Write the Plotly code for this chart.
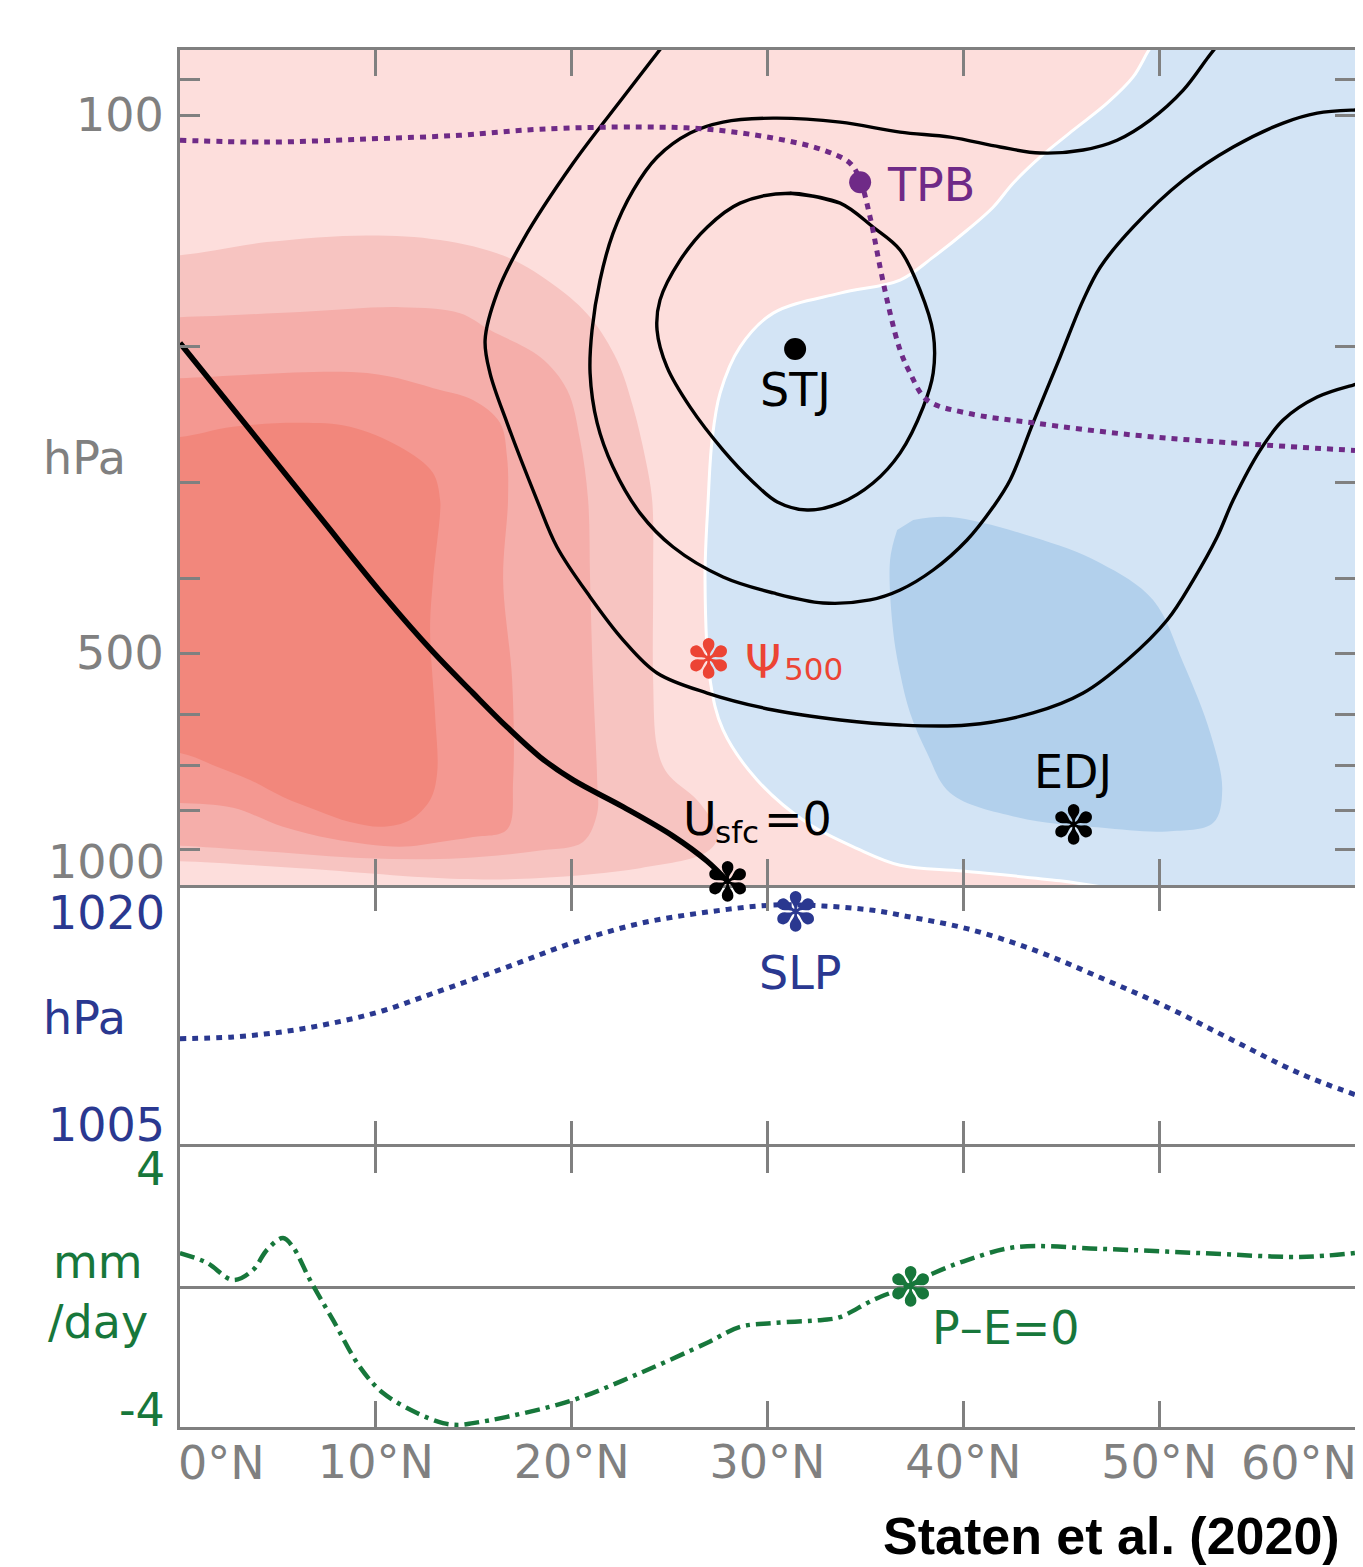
import math
import plotly.graph_objects as go

# ---------------- data ----------------
# Top panel: outlines of the shaded streamfunction levels (latitude °N, pressure hPa)
psi2_lat = [-2, 0, 4.44, 9.55, 13.28, 16.70, 19.25, 20.94, 22.32, 23.14, 23.75, 24.11, 24.16, 24.16,
            24.36, 24.87, 26.40, 27.22, 27.43, 26.81, 23.49, 18.39, 14.30, 6.13, 0, -2]
psi2_p = [152, 152, 146.2, 143.3, 145.3, 152.9, 167.3, 183, 208.1, 239.5, 278.2, 316.2, 401.7, 541.7,
          661.8, 715.3, 775.4, 830.4, 871.4, 909, 950.8, 979, 982, 950.8, 931.4, 931.4]

psi3_lat = [-2, 0, 6.13, 11.24, 14.30, 15.83, 18.39, 19.77, 20.43, 20.84, 20.94, 21.09, 21.30, 21.30,
            20.58, 18.39, 14.30, 9.55, 4.44, 0, -2]
psi3_p = [183, 183, 180.2, 177.6, 180.8, 190.2, 206.2, 227.6, 264.3, 316.2, 401.7, 541.7, 730.4, 807,
          879, 902, 923.2, 923.2, 904.6, 889, 889]

psi4_lat = [-2, 0, 9.55, 13.28, 14.96, 16.34, 16.70, 16.75, 16.50, 16.96, 17.01, 16.70, 14.96, 13.28,
            11.24, 7.81, 5.26, 2.71, 0, -2]
psi4_p = [219.6, 219.6, 216.3, 227.6, 234.5, 251, 278.2, 316.2, 401.7, 541.7, 730.4, 847.1, 866.5, 879,
          891.6, 871.4, 840, 794, 782.4, 782.4]

psi5_lat = [-2, 0, 2.71, 6.13, 8.68, 11.24, 12.92, 13.28, 13.28, 12.92, 12.77, 13.02, 13.13, 12.77,
            11.75, 10.37, 8.68, 7.0, 5.26, 3.58, 1.89, 0, -2]
psi5_p = [261.9, 261.9, 254, 251, 254, 269.9, 291.7, 316.2, 328.8, 401.7, 466.4, 597.8, 715.3, 775.4,
          823.3, 840, 828, 800, 768.4, 730.4, 702, 673.8, 673.8]

# zero line of the streamfunction (boundary of the negative / blue region)
psi0_lat = [49.7, 49.39, 48.67, 47.34, 45.61, 43.92, 42.54, 41.52, 40.19, 38.46, 36.77, 33.71, 30.29,
            28.60, 27.58, 27.17, 26.97, 26.81, 27.07, 27.73, 29.47, 32.02, 34.58, 36.77, 39.99, 44.94, 47.5]
psi0_p = [80.5, 83, 89.2, 96.5, 104.6, 113.4, 122.6, 131.7, 141.1, 152.9, 163.8, 170.3, 180.8,
          200, 229.6, 264.3, 316.2, 401.7, 541.7, 629, 730.4, 830.4, 896.8, 942.6, 959.3, 987.6, 1010]
neg_corner_lat = [62, 62]
neg_corner_p = [1010, 80]

# stronger negative region (eddy-driven jet)
negb_lat = [37.44, 39.33, 43.56, 46.99, 49.69, 51.23, 52.61, 53.22, 52.76, 50.41, 46.99, 42.75, 39.33,
            38.15, 37.28, 36.77, 36.41, 36.26, 36.62]
negb_p = [335.7, 332.7, 353.2, 381.6, 426.3, 514.8, 634.7, 752.6, 830.4, 852, 842.3, 816.5, 759.3,
          673.8, 597.8, 530.4, 466.4, 378.3, 345.9]

# zonal wind contours
ua_lat = [24.7, 22.63, 20.07, 17.52, 16.19, 15.58, 15.83, 16.70, 18.23, 19.25, 20.94, 22.63, 24.36,
          26.92, 30.29, 33.71, 36.77, 40.19, 43.56, 46.12, 48.37, 50.41, 51.74, 52.96, 53.78, 55.16,
          56.33, 58.07, 59.91, 60.3]
ua_p = [81, 94.8, 115.5, 145.3, 170.3, 196, 216.3, 251, 316.2, 363.9, 422.5, 480.6, 530.4,
        563.2, 592.5, 610.5, 619.8, 619.8, 597.8, 563.2, 510.2, 452.7, 401.7, 353.2, 316.2, 272.3,
        248.9, 232.4, 224.2, 223]

ub_lat = [53.0, 52.50, 51.23, 49.54, 47.85, 46.12, 43.92, 41.88, 39.33, 36.77, 33.71, 30.29, 27.73,
          26.05, 24.36, 23.14, 22.11, 21.45, 21.04, 20.94, 21.30, 22.11, 23.49, 25.18, 27.73, 30.29,
          32.84, 35.24, 36.77, 38.46, 40.19, 41.52, 42.39, 43.56, 44.94, 46.12, 46.99, 48.67, 51.23,
          53.78, 56.33, 58.07, 59.91, 60.3]
ub_p = [81, 84.1, 92.8, 101.5, 107.8, 111, 112, 110, 106.8, 105.2, 102.1, 100.9, 102.1,
        105.5, 113.4, 125.2, 142.4, 163.8, 190.2, 216.3, 251, 286.5, 328.8, 363.9, 398, 417.5,
        430.2, 426.3, 413.8, 389.8, 356.3, 322.9, 297.8, 251, 206.2, 173.9, 157.6, 139.8, 121.5,
        110, 102.4, 99.4, 98.5, 98.5]

# closed loop around the subtropical jet
uc_lat = [31.15, 33.71, 35.39, 36.77, 37.79, 38.46, 38.46, 37.95, 36.77, 35.39, 33.71, 32.02, 30.50,
          29.26, 27.73, 26.05, 24.87, 24.36, 24.51, 25.54, 26.92, 28.60, 31.15, 33.71]
uc_p = [126.3, 130.1, 139.8, 149.7, 168.8, 192, 216.3, 239.5, 274.8, 300.5, 319.1, 325.8, 318,
        299.5, 272.3, 239.5, 212.5, 190.2, 173.9, 154.3, 139.8, 130.1, 126.3, 130.1]

# thick line reaching the surface where U_sfc = 0
u0_lat = [0, 3.58, 7.15, 10.37, 12.92, 14.96, 16.70, 18.39, 20.07, 22.63, 25.18, 26.92, 27.94]
u0_p = [197.7, 256.5, 332.7, 420, 498, 563.2, 623.6, 682, 730.4, 791.8, 864, 931.4, 987.6]

# tropopause (TPB)
tpb_lat = [0, 4.44, 9.55, 14.30, 18.39, 23.49, 26.92, 30.29, 32.84, 34.22, 34.73, 35.24, 35.75, 36.26,
           36.77, 37.28, 38.15, 40.19, 43.56, 48.67, 53.78, 60]
tpb_p = [107.8, 108.4, 107.4, 106.2, 104.3, 103.6, 104.3, 107.1, 111, 115.5, 121.5, 135.7, 157.6, 180.8,
         201.9, 216.3, 234.5, 243.8, 251, 260.3, 266.6, 272.6]

# Middle panel: sea level pressure (hPa)
slp_lat = [0, 2.71, 5.26, 7.81, 10.37, 12.92, 16.7, 20.07, 23.49, 26.92, 30.29, 32.84, 35.39, 37.13,
           40.19, 43.56, 46.99, 50.41, 53.78, 57.2, 60]
slp = [1011.2, 1011.3, 1011.6, 1012.1, 1012.8, 1013.8, 1015.3, 1016.7, 1017.8, 1018.45, 1018.85, 1018.8,
       1018.55, 1018.2, 1017.5, 1016.3, 1014.7, 1013.0, 1011.1, 1009.2, 1008.0]

# Bottom panel: P-E (mm/day)
pe_lat = [0, 1.38, 2.71, 3.73, 4.44, 5.26, 5.77, 6.64, 7.81, 9.19, 10.37, 12.1, 13.43, 14.3, 14.96,
          16.7, 20.07, 23.49, 26.9, 28.6, 30.3, 32.8, 33.7, 35.4, 37.3, 38.5, 40.2, 42.7, 47.0, 52.1,
          57.2, 60]
pe = [0.97, 0.69, 0.2, 0.49, 1.06, 1.4, 1.14, 0.2, -0.94, -2.29, -3.03, -3.6, -3.89, -3.94, -3.89,
      -3.71, -3.23, -2.46, -1.6, -1.14, -1.03, -0.94, -0.86, -0.37, 0.06, 0.4, 0.77, 1.14, 1.09, 0.97,
      0.86, 0.97]

# key points
stj = (31.41, 201.3)
tpb_pt = (34.73, 122.2)
psi500_pt = (26.97, 509)
edj_pt = (45.61, 838)
usfc_pt = (27.94, 993)
slp_pt = (31.41, 1018.4)
pe0_pt = (37.28, 0.0)

lat_ticks = [10, 20, 30, 40, 50]
lat_labels = ["10°N", "20°N", "30°N", "40°N", "50°N"]
p_ticks = [90, 100, 200, 300, 400, 500, 600, 700, 800, 900, 1000]
p_labels = ["", "100", "", "", "", "500", "", "", "", "", ""]

# ---------------- styles ----------------
GRAY = "#808080"
PURPLE = "#6f2a87"
BLUE = "#2a3890"
GREEN = "#17773b"
RED = "#ec4434"
C1, C2, C3, C4, C5 = "#fddedc", "#f7c4c1", "#f5aeaa", "#f49891", "#f2877c"
B1, B2 = "#d3e4f5", "#b2d0ec"
FONT = "DejaVu Sans"
FS = 46
SM = 1.0

fig = go.Figure()


def fill_poly(lat, p, color):
    fig.add_trace(go.Scatter(x=lat, y=p, xaxis="x", yaxis="y", mode="lines", fill="toself",
                             fillcolor=color, line=dict(width=0, color=color, shape="spline", smoothing=SM),
                             hoverinfo="skip", showlegend=False))


fill_poly(psi2_lat, psi2_p, C2)
fill_poly(psi3_lat, psi3_p, C3)
fill_poly(psi4_lat, psi4_p, C4)
fill_poly(psi5_lat, psi5_p, C5)
fill_poly(psi0_lat + neg_corner_lat, psi0_p + neg_corner_p, B1)
fill_poly(negb_lat, negb_p, B2)

# white zero contour
fig.add_trace(go.Scatter(x=psi0_lat, y=psi0_p, xaxis="x", yaxis="y", mode="lines",
                         line=dict(width=3, color="white", shape="spline", smoothing=SM),
                         hoverinfo="skip", showlegend=False))

for la, pp in [(ua_lat, ua_p), (ub_lat, ub_p), (uc_lat, uc_p)]:
    fig.add_trace(go.Scatter(x=la, y=pp, xaxis="x", yaxis="y", mode="lines",
                             line=dict(width=3.4, color="black", shape="spline", smoothing=SM),
                             hoverinfo="skip", showlegend=False))

fig.add_trace(go.Scatter(x=u0_lat, y=u0_p, xaxis="x", yaxis="y", mode="lines",
                         line=dict(width=5.5, color="black", shape="spline", smoothing=SM),
                         hoverinfo="skip", showlegend=False))

fig.add_trace(go.Scatter(x=tpb_lat, y=tpb_p, xaxis="x", yaxis="y", mode="lines",
                         line=dict(width=5, color=PURPLE, dash="6px,6px", shape="spline", smoothing=SM),
                         hoverinfo="skip", showlegend=False))

fig.add_trace(go.Scatter(x=[tpb_pt[0]], y=[tpb_pt[1]], xaxis="x", yaxis="y", mode="markers",
                         marker=dict(size=22, color=PURPLE), hoverinfo="skip", showlegend=False))
fig.add_trace(go.Scatter(x=[stj[0]], y=[stj[1]], xaxis="x", yaxis="y", mode="markers",
                         marker=dict(size=22, color="black"), hoverinfo="skip", showlegend=False))

fig.add_trace(go.Scatter(x=slp_lat, y=slp, xaxis="x2", yaxis="y2", mode="lines",
                         line=dict(width=5, color=BLUE, dash="6px,6px", shape="spline", smoothing=SM),
                         hoverinfo="skip", showlegend=False))

fig.add_trace(go.Scatter(x=pe_lat, y=pe, xaxis="x3", yaxis="y3", mode="lines",
                         line=dict(width=4.5, color=GREEN, dash="15px,6px,4px,6px", shape="spline",
                                   smoothing=SM),
                         hoverinfo="skip", showlegend=False))

# background of the top panel (weakest positive level)
fig.add_shape(type="rect", xref="x domain", yref="y domain", x0=0, x1=1, y0=0, y1=1,
              fillcolor=C1, line=dict(width=0), layer="below")

L = math.log10
ann = []


def txt(text, x, y, xref, yref, color, size=FS, xanchor="center", yanchor="middle", family=FONT,
        xshift=0, yshift=0):
    ann.append(dict(text=text, x=x, y=y, xref=xref, yref=yref, showarrow=False,
                    font=dict(family=family, size=size, color=color), xanchor=xanchor,
                    yanchor=yanchor, xshift=xshift, yshift=yshift))


AST = "✽"
AS = 54
# top panel labels
txt("TPB", 36.0, L(123.3), "x", "y", PURPLE, xanchor="left")
txt("STJ", 31.41, L(227.6), "x", "y", "black")
txt(AST, psi500_pt[0], L(psi500_pt[1]), "x", "y", RED, size=AS)
txt("Ψ", 28.75, L(514), "x", "y", RED, xanchor="left")
txt("500", 30.75, L(524), "x", "y", RED, size=31, xanchor="left")
txt("EDJ", 45.61, L(713), "x", "y", "black")
txt(AST, edj_pt[0], L(edj_pt[1]), "x", "y", "black", size=AS)
txt("U", 25.6, L(820), "x", "y", "black", xanchor="left")
txt("sfc", 27.2, L(853), "x", "y", "black", size=31, xanchor="left")
txt("=0", 29.7, L(820), "x", "y", "black", xanchor="left")
txt(AST, usfc_pt[0], L(usfc_pt[1]), "x", "y", "black", size=AS)
# middle
txt("SLP", 31.66, 1014.96, "x2", "y2", BLUE)
txt(AST, slp_pt[0], slp_pt[1], "x2", "y2", BLUE, size=AS)
# bottom
txt("P–E=0", 38.30, -1.17, "x3", "y3", GREEN, xanchor="left")
txt(AST, pe0_pt[0], pe0_pt[1], "x3", "y3", GREEN, size=AS)

# axis side labels (paper coords; plot area spans page pixels x 180-1355, y 50-1427)
H = 1377.0
W = 1175.0


def py(ypx):
    return (1427 - ypx) / H


def px(xpx):
    return (xpx - 180) / W


txt("1000", 0, py(862), "paper", "paper", GRAY, xanchor="right", xshift=-13)
txt("hPa", px(84.5), py(458), "paper", "paper", GRAY)
txt("1020", 0, py(913), "paper", "paper", BLUE, xanchor="right", xshift=-13)
txt("hPa", px(84.5), py(1018), "paper", "paper", BLUE)
txt("1005", 0, py(1125), "paper", "paper", BLUE, xanchor="right", xshift=-13)
txt("4", 0, py(1169), "paper", "paper", GREEN, xanchor="right", xshift=-13)
txt("mm", px(98), py(1262), "paper", "paper", GREEN)
txt("/day", px(98), py(1322), "paper", "paper", GREEN)
txt("-4", 0, py(1410), "paper", "paper", GREEN, xanchor="right", xshift=-13)
txt("0°N", px(176), py(1463), "paper", "paper", GRAY, xanchor="left")
txt("60°N", px(1359), py(1463), "paper", "paper", GRAY, xanchor="right")
txt("<b>Staten et al. (2020)</b>", px(1342), py(1567), "paper", "paper", "black", size=52,
    xanchor="right", yanchor="bottom", family="Liberation Sans")

axis_common = dict(showline=True, linecolor=GRAY, linewidth=3, showgrid=False, zeroline=False)
xcommon = dict(axis_common, range=[0, 60], tickvals=lat_ticks, ticks="inside", ticklen=26,
               tickwidth=3, tickcolor=GRAY, mirror="ticks")

d_bot = 280 / H
d_mid = 542 / H

# the page body adds an 8 px offset, so the figure is 8 px smaller than the window
fig.update_layout(
    width=1355, height=1559,
    margin=dict(l=172, r=8, t=42, b=140, autoexpand=False),
    paper_bgcolor="white", plot_bgcolor="white", showlegend=False,
    font=dict(family=FONT, size=FS, color=GRAY),
    annotations=ann,
    xaxis=dict(xcommon, domain=[0, 1], anchor="y", showticklabels=False),
    yaxis=dict(axis_common, domain=[d_mid, 1], anchor="x", type="log", range=[3, L(82.3)],
               tickvals=p_ticks, ticktext=p_labels, ticks="inside", ticklen=20, tickwidth=3,
               tickcolor=GRAY, mirror="ticks", tickfont=dict(family=FONT, size=FS, color=GRAY),
               ticklabelstandoff=4, automargin=False),
    xaxis2=dict(xcommon, domain=[0, 1], anchor="y2", showticklabels=False, showline=False),
    yaxis2=dict(axis_common, domain=[d_bot, d_mid], anchor="x2", range=[1005, 1020],
                showticklabels=False, ticks="", mirror=True),
    xaxis3=dict(xcommon, domain=[0, 1], anchor="y3", ticktext=lat_labels, showticklabels=True,
                tickfont=dict(family=FONT, size=FS, color=GRAY), ticklabelstandoff=-7,
                automargin=False),
    yaxis3=dict(axis_common, domain=[0, d_bot], anchor="x3", range=[-4, 4], showticklabels=False,
                ticks="", mirror=True, zeroline=True, zerolinecolor=GRAY, zerolinewidth=3),
)

fig.write_html("out.html")
